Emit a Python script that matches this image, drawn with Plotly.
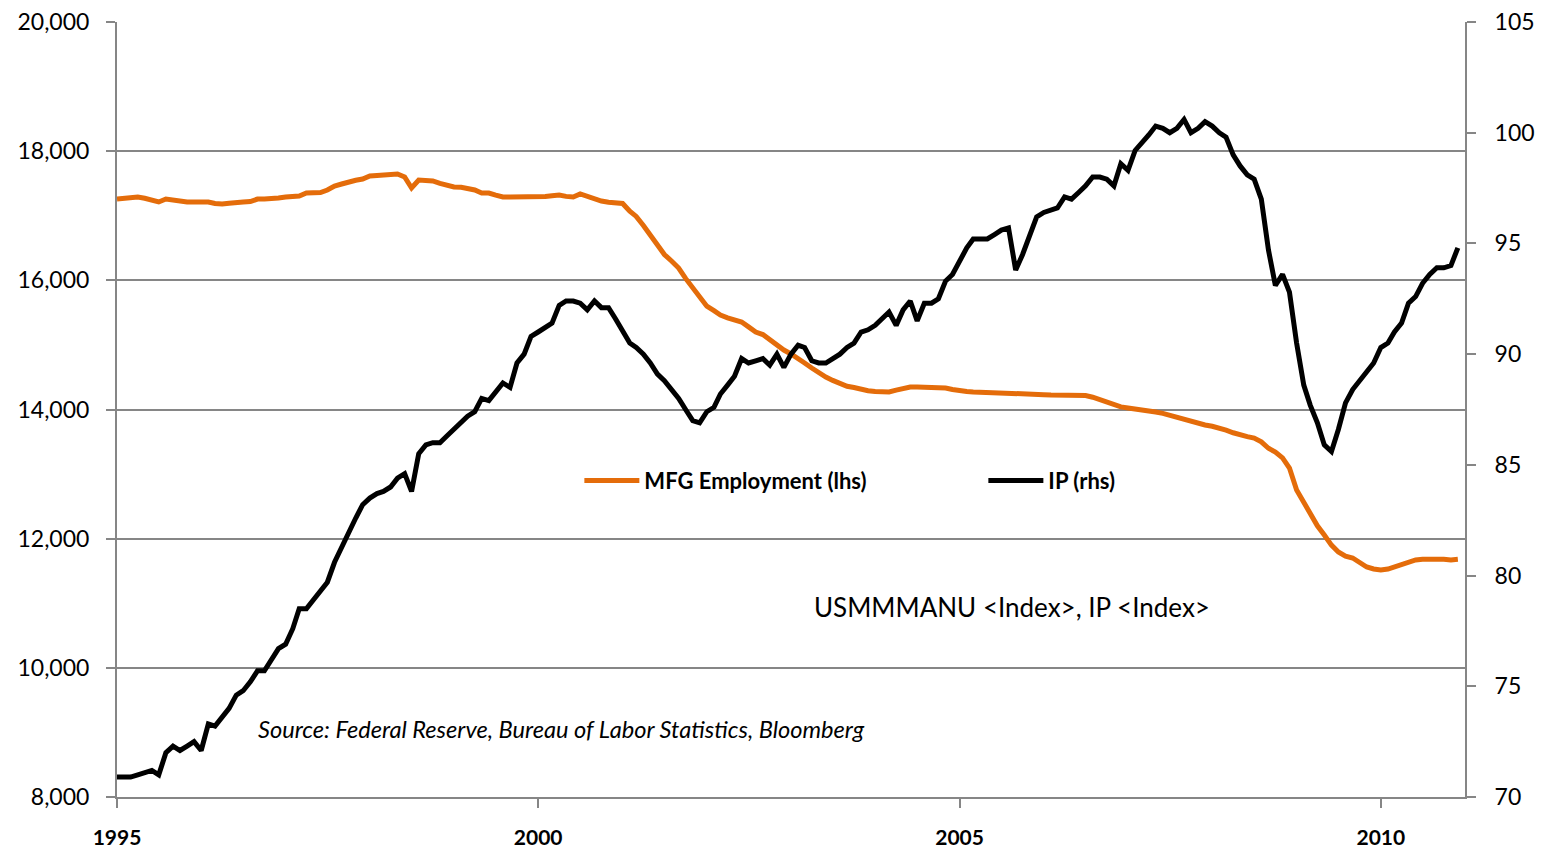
import pandas as pd
import plotly.graph_objects as go

# Monthly dates Jan 1995 - Dec 2010
dates = pd.date_range("1995-01-01", periods=192, freq="MS")

# Manufacturing employment (thousands, left axis)
mfg_employment = [
    17259, 17265, 17275, 17290, 17270, 17240, 17213, 17259, 17240, 17225, 17213, 17213,  # 1995
    17213, 17213, 17190, 17182, 17195, 17213, 17213, 17220, 17259, 17259, 17259, 17275,  # 1996
    17290, 17300, 17306, 17352, 17355, 17360, 17399, 17461, 17492, 17530, 17550, 17569,  # 1997
    17616, 17625, 17631, 17640, 17647, 17600, 17430, 17554, 17545, 17538, 17500, 17470,  # 1998
    17445, 17440, 17430, 17400, 17352, 17352, 17320, 17290, 17290, 17290, 17290, 17290,  # 1999
    17290, 17300, 17310, 17321, 17300, 17290, 17337, 17300, 17250, 17228, 17210, 17197,  # 2000
    17190, 17070, 16990, 16850, 16700, 16550, 16400, 16300, 16191, 16030, 15880, 15740,  # 2001
    15600, 15530, 15463, 15420, 15380, 15355, 15280, 15200, 15160, 15080, 15000, 14921,  # 2002
    14860, 14797, 14720, 14642, 14570, 14503, 14450, 14395, 14360, 14340, 14310, 14290,  # 2003
    14280, 14275, 14271, 14300, 14330, 14348, 14350, 14348, 14348, 14340, 14333, 14310,  # 2004
    14286, 14280, 14271, 14265, 14260, 14255, 14250, 14245, 14240, 14235, 14230, 14225,  # 2005
    14230, 14225, 14225, 14225, 14225, 14225, 14215, 14190, 14147, 14110, 14070, 14040,  # 2006
    14023, 14010, 13990, 13975, 13961, 13940, 13910, 13884, 13850, 13810, 13780, 13760,  # 2007
    13740, 13713, 13680, 13640, 13605, 13580, 13558, 13500, 13400, 13342, 13250, 13094,  # 2008
    12754, 12550, 12367, 12200, 12057, 11900, 11794, 11730, 11701, 11640, 11561, 11530,  # 2009
    11515, 11530, 11560, 11592, 11630, 11670, 11680, 11685, 11685, 11680, 11670, 11680,  # 2010
]

# Industrial production index (right axis)
ip_index = [
    70.9, 70.9, 70.9, 71.0, 71.1, 71.2, 71.0, 72.0, 72.3, 72.1, 72.3, 72.5,  # 1995
    72.1, 73.3, 73.2, 73.6, 74.0, 74.6, 74.8, 75.2, 75.7, 75.7, 76.2, 76.7,  # 1996
    76.9, 77.6, 78.5, 78.5, 78.9, 79.3, 79.7, 80.6, 81.3, 81.9, 82.6, 83.2,  # 1997
    83.5, 83.7, 83.8, 84.0, 84.4, 84.6, 83.8, 85.5, 85.9, 86.0, 86.0, 86.3,  # 1998
    86.6, 86.9, 87.2, 87.4, 88.0, 87.9, 88.3, 88.7, 88.5, 89.6, 90.0, 90.8,  # 1999
    91.0, 91.2, 91.4, 92.2, 92.4, 92.4, 92.3, 92.0, 92.4, 92.1, 92.1, 91.6,  # 2000
    91.0, 90.5, 90.3, 90.0, 89.6, 89.1, 88.8, 88.4, 88.0, 87.5, 87.0, 86.9,  # 2001
    87.4, 87.6, 88.2, 88.6, 89.0, 89.8, 89.6, 89.7, 89.8, 89.5, 90.0, 89.4,  # 2002
    90.0, 90.4, 90.3, 89.7, 89.6, 89.6, 89.8, 90.0, 90.3, 90.5, 91.0, 91.1,  # 2003
    91.3, 91.6, 91.9, 91.3, 92.0, 92.4, 91.5, 92.3, 92.3, 92.5, 93.3, 93.6,  # 2004
    94.2, 94.8, 95.2, 95.2, 95.2, 95.4, 95.6, 95.7, 93.8, 94.5, 95.3, 96.2,  # 2005
    96.4, 96.5, 96.6, 97.1, 97.0, 97.3, 97.6, 98.0, 98.0, 97.9, 97.6, 98.6,  # 2006
    98.3, 99.2, 99.5, 99.9, 100.3, 100.2, 100.0, 100.2, 100.6, 100.0, 100.2, 100.5,  # 2007
    100.3, 100.0, 99.8, 99.0, 98.5, 98.1, 97.9, 97.0, 94.7, 93.1, 93.6, 92.8,  # 2008
    90.5, 88.6, 87.7, 86.9, 85.9, 85.6, 86.6, 87.8, 88.4, 88.8, 89.2, 89.6,  # 2009
    90.3, 90.5, 91.0, 91.4, 92.3, 92.6, 93.2, 93.6, 93.9, 93.9, 94.0, 94.8,  # 2010
]

x_tick_vals = ["1995-01-01", "2000-01-01", "2005-01-01", "2010-01-01"]
x_tick_text = ["1995", "2000", "2005", "2010"]

series_names = ["MFG Employment (lhs)", "IP (rhs)"]
note_text = "USMMMANU &lt;Index&gt;, IP &lt;Index&gt;"
source_text = "Source: Federal Reserve, Bureau of Labor Statistics, Bloomberg"

ORANGE = "#E46C0A"
GRID = "#868686"
FONT = "Lato, 'Open Sans', sans-serif"

fig = go.Figure()
fig.add_trace(go.Scatter(
    x=dates, y=mfg_employment, name=series_names[0], mode="lines",
    line=dict(color=ORANGE, width=5), yaxis="y",
))
fig.add_trace(go.Scatter(
    x=dates, y=ip_index, name=series_names[1], mode="lines",
    line=dict(color="#000000", width=5), yaxis="y2",
))

fig.update_layout(
    width=1541, height=851,
    margin=dict(l=117, r=76, t=22, b=54),
    paper_bgcolor="white", plot_bgcolor="white",
    font=dict(family=FONT, color="#000000"),
    showlegend=True,
    legend=dict(
        orientation="h", x=0.343, y=0.408, xanchor="left", yanchor="middle",
        bgcolor="rgba(0,0,0,0)", font=dict(family=FONT, size=22, weight="bold"),
        entrywidth=334, entrywidthmode="pixels", itemwidth=55,
    ),
    xaxis=dict(
        type="date", range=["1995-01-01", "2011-01-01"],
        tickvals=x_tick_vals, ticktext=x_tick_text,
        tickfont=dict(family=FONT, size=21, weight="bold"),
        showgrid=False, showline=True, linecolor=GRID, linewidth=2,
        ticks="outside", ticklen=9, tickwidth=2, tickcolor=GRID,
        ticklabelstandoff=12, zeroline=False, automargin=False,
        ticklabeloverflow="allow",
    ),
    yaxis=dict(
        range=[8000, 20000], dtick=2000, tickformat=",",
        tickfont=dict(family=FONT, size=23),
        showgrid=True, gridcolor=GRID, gridwidth=2,
        showline=True, linecolor=GRID, linewidth=2,
        ticks="outside", ticklen=9, tickwidth=2, tickcolor=GRID,
        ticklabelstandoff=12, zeroline=False, automargin=False,
        ticklabeloverflow="allow",
    ),
    yaxis2=dict(
        range=[70, 105], dtick=5, overlaying="y", side="right",
        tickfont=dict(family=FONT, size=23),
        showgrid=False, showline=True, linecolor=GRID, linewidth=2,
        ticks="outside", ticklen=9, tickwidth=2, tickcolor=GRID,
        ticklabelstandoff=14, zeroline=False, automargin=False,
        ticklabeloverflow="allow",
    ),
    annotations=[
        dict(text=note_text, xref="paper", yref="paper",
             x=(812 - 117) / 1348, y=(797 - 607) / 775,
             xanchor="left", yanchor="middle", showarrow=False,
             font=dict(family=FONT, size=26)),
        dict(text="<i>" + source_text + "</i>", xref="paper", yref="paper",
             x=(256 - 117) / 1348, y=(797 - 729) / 775,
             xanchor="left", yanchor="middle", showarrow=False,
             font=dict(family=FONT, size=23.6)),
    ],
)

fig.write_html(
    "out.html",
    config={"displayModeBar": False},
    post_script="document.body.style.margin='0';document.body.style.overflow='hidden';",
)
